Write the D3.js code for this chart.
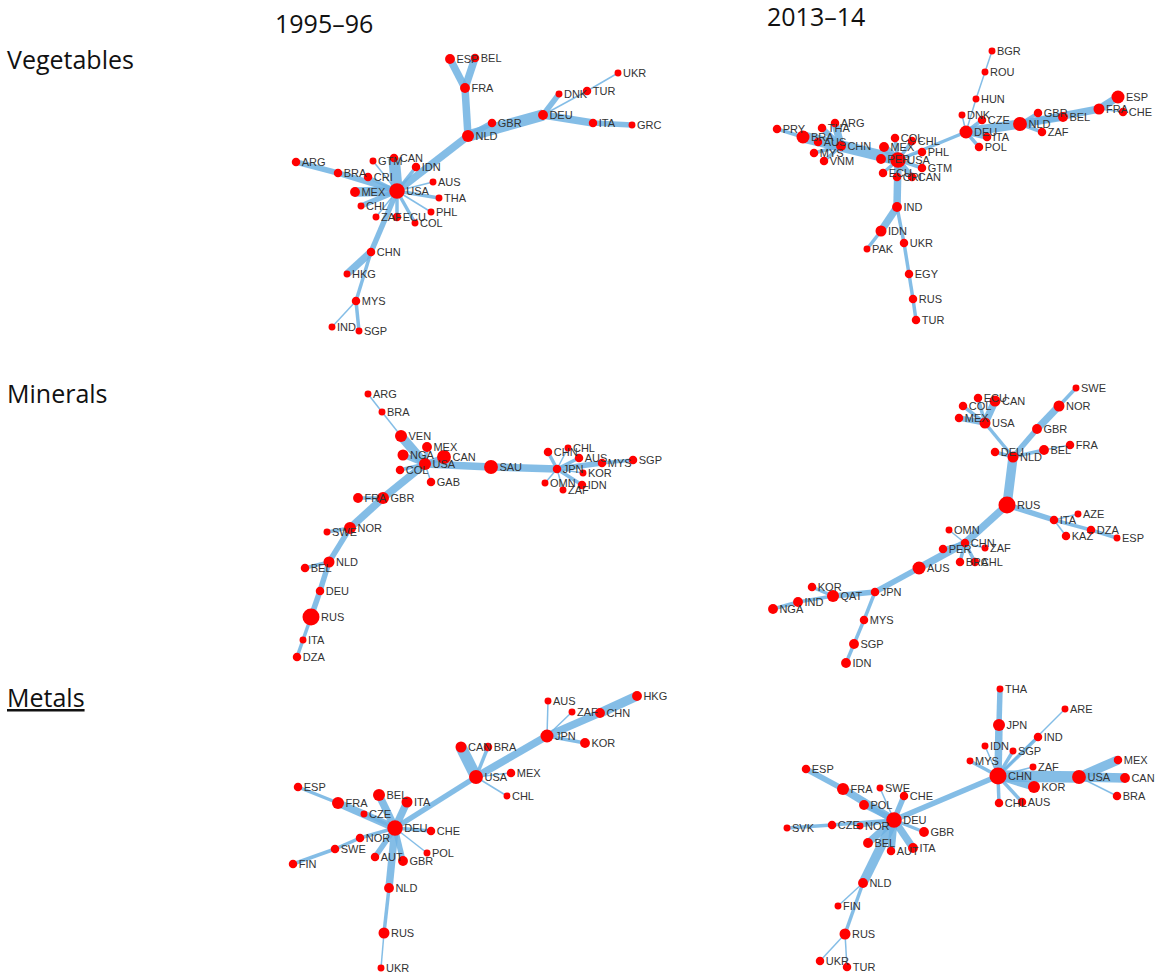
<!DOCTYPE html>
<html>
<head>
<meta charset="utf-8">
<script src="https://cdn.jsdelivr.net/npm/d3@7"></script>
<style>
  html, body { margin: 0; padding: 0; background: #fff; }
  svg { display: block; }
</style>
</head>
<body>
<svg id="chart" width="1158" height="980"></svg>
<script>
// Column (period) titles and row (product group) titles
const periods = ["1995–96", "2013–14"];
const groups = ["Vegetables", "Minerals", "Metals"];

// Node tables: [country, layoutX, layoutY, tradeSize]
// Layout coordinates are in each panel's own 400 x 300 layout space.
const vegNodes1995 = [
  ["ESP",170,19,2],["BEL",195,18,1.5],["FRA",185,48,2],["NLD",188,96,3],["GBR",212,83,1.5],
  ["DEU",263,75,2],["DNK",279,54,1],["TUR",307,51,1.5],["UKR",338,33,1],["ITA",313,83,1.5],
  ["GRC",352,85,1],["USA",117,151,5],["ARG",16,122,1.5],["BRA",58,133,1.5],["CRI",88,137,1.5],
  ["GTM",93,121,1],["CAN",114,118,1.5],["IDN",136,127,1.5],["AUS",153,142,1],["THA",159,158,1],
  ["PHL",151,172,1],["COL",135,183,1],["ECU",117,177,1.5],["ZAF",96,177,1],["MEX",75,152,2],
  ["CHL",81,166,1],["CHN",91,212,1.5],["HKG",67,234,1],["MYS",76,261,1.5],["IND",52,287,1],
  ["SGP",79,291,1]
];
// Link tables: [source, target, tradeWeight]
const vegLinks1995 = [
  ["ESP","FRA",4],["BEL","FRA",4],["FRA","NLD",4],["NLD","GBR",3],["NLD","DEU",6],
  ["DEU","DNK",3],["DEU","TUR",1],["TUR","UKR",1],["DEU","ITA",4],["ITA","GRC",3],
  ["NLD","USA",4],["USA","CAN",6],["USA","MEX",5],["USA","BRA",3],["BRA","ARG",3],
  ["USA","CRI",2],["USA","GTM",1],["USA","IDN",2],["USA","AUS",1],["USA","THA",2],
  ["USA","PHL",1],["USA","COL",2],["USA","ECU",2],["USA","ZAF",1],["USA","CHL",3],
  ["USA","CHN",3],["CHN","HKG",4],["CHN","MYS",2],["MYS","IND",1],["MYS","SGP",2]
];

const vegNodes2013 = [
  ["PRY",12,89,1.5],["BRA",38,97,3.5],["THA",57,88,1.5],["ARG",70,83,1.5],["AUS",53,102,1.5],
  ["CHN",76,106,2],["MYS",49,113,1.5],["VNM",59,121,1.5],["MEX",119,107,2],["COL",130,98,1.5],
  ["CHL",147,101,1.5],["PER",116,119,2],["USA",133,120,5],["PHL",157,112,1.5],["GTM",157,128,1.5],
  ["ECU",118,133,1.5],["CRI",132,137,1.5],["CAN",147,137,1.5],["IND",132,167,2],["IDN",116,191,2.5],
  ["PAK",102,209,1],["UKR",139,203,1.5],["EGY",144,234,1.5],["RUS",148,259,1.5],["TUR",151,280,1.5],
  ["BGR",227,11,1],["ROU",220,32,1],["HUN",211,59,1],["DNK",197,75,1],["CZE",217,80,1.5],
  ["DEU",201,92,3.5],["ITA",222,97,1.5],["POL",214,107,1.5],["NLD",255,84,4],["GBR",273,73,1.5],
  ["BEL",298,77,2],["ZAF",277,92,1.5],["FRA",334,69,2.5],["ESP",353,57,3.5],["CHE",358,72,1.5]
];
const vegLinks2013 = [
  ["PRY","BRA",2],["BRA","CHN",6],["ARG","CHN",4],["THA","CHN",3],["AUS","CHN",3],
  ["MYS","CHN",2],["VNM","CHN",2],["CHN","USA",6],["USA","MEX",4],["USA","COL",2],
  ["USA","CHL",2],["USA","PER",3],["USA","PHL",1],["USA","GTM",2],["USA","ECU",2],
  ["USA","CRI",2],["USA","CAN",3],["USA","DEU",2],["USA","IND",4],["IND","IDN",4],
  ["IDN","PAK",2],["IND","UKR",2],["UKR","EGY",2],["EGY","RUS",2],["RUS","TUR",2],
  ["DEU","HUN",1],["HUN","ROU",1],["ROU","BGR",1],["DEU","DNK",1],["DEU","CZE",2],
  ["DEU","ITA",3],["DEU","POL",2],["DEU","NLD",5],["NLD","GBR",2],["NLD","BEL",4],
  ["NLD","ZAF",2],["NLD","FRA",4],["FRA","ESP",4],["FRA","CHE",1]
];

const minNodes1995 = [
  ["ARG",88,14,1],["BRA",102,32,1],["VEN",121,56,3],["MEX",147,67,2],["CAN",164,77,4],
  ["NGA",123,75,2.5],["USA",145,84,3],["COL",120,90,1.5],["GAB",151,102,1.5],["FRA",78,118,2],
  ["GBR",103,118,3],["SWE",47,152,1],["NOR",70,148,3],["NLD",49,182,2.5],["BEL",25,188,1.5],
  ["DEU",40,211,1.5],["RUS",31,237,6],["ITA",23,260,1],["DZA",17,277,1.5],["SAU",211,87,4],
  ["JPN",277,89,1.5],["CHN",268,72,1.5],["CHL",288,68,1],["AUS",299,78,1.5],["MYS",322,83,1.5],
  ["SGP",353,80,1.5],["KOR",303,93,1],["OMN",265,103,1],["ZAF",283,110,1],["IDN",302,105,1.5]
];
const minLinks1995 = [
  ["ARG","BRA",1],["BRA","VEN",1],["VEN","USA",5],["MEX","USA",2],["CAN","USA",3],
  ["NGA","USA",3],["COL","USA",2],["GAB","USA",1],["USA","SAU",4],["SAU","JPN",4],
  ["JPN","CHN",2],["JPN","CHL",1],["JPN","AUS",2],["JPN","MYS",3],["MYS","SGP",2],
  ["JPN","KOR",1],["JPN","OMN",1],["JPN","ZAF",1],["JPN","IDN",2],["USA","GBR",4],
  ["GBR","FRA",2],["GBR","NOR",4],["NOR","SWE",2],["NOR","NLD",3],["NLD","BEL",2],
  ["NLD","DEU",3],["DEU","RUS",3],["RUS","ITA",2],["ITA","DZA",2]
];

const minNodes2013 = [
  ["SWE",311,8,1],["NOR",294,26,2.5],["ECU",213,18,1.5],["CAN",230,21,2.5],["COL",198,26,1.5],
  ["MEX",194,38,1.5],["USA",220,43,2.5],["GBR",272,49,2],["FRA",305,65,1.5],["BEL",279,70,2],
  ["DEU",230,72,1.5],["NLD",248,77,2.5],["RUS",242,125,6],["ITA",289,140,1.5],["AZE",313,134,1],
  ["KAZ",301,156,1.5],["DZA",326,150,1.5],["ESP",352,158,1],["OMN",184,150,1],["CHN",200,163,1.5],
  ["PER",178,169,1.5],["BRA",195,182,1.5],["CHL",210,182,1.5],["ZAF",220,168,1],["AUS",154,188,3.5],
  ["JPN",110,212,1.5],["QAT",68,216,3],["KOR",47,207,1.5],["IND",33,222,2],["NGA",8,229,2],
  ["MYS",99,240,1.5],["SGP",89,264,2],["IDN",81,283,2]
];
const minLinks2013 = [
  ["SWE","NOR",2],["NOR","GBR",4],["GBR","NLD",3],["FRA","BEL",1],["BEL","NLD",2],
  ["DEU","NLD",2],["NLD","RUS",5],["USA","NLD",2],["COL","USA",2],["MEX","USA",3],
  ["ECU","USA",2],["CAN","USA",4],["RUS","ITA",3],["ITA","AZE",1],["ITA","KAZ",1],
  ["ITA","DZA",2],["DZA","ESP",2],["RUS","CHN",4],["CHN","OMN",1],["CHN","PER",2],
  ["CHN","BRA",2],["CHN","CHL",2],["CHN","ZAF",1],["CHN","AUS",4],["AUS","JPN",3],
  ["JPN","QAT",3],["QAT","KOR",2],["QAT","IND",2],["IND","NGA",2],["JPN","MYS",2],
  ["MYS","SGP",2],["SGP","IDN",2]
];

const metNodes1995 = [
  ["CAN",181,67,2.5],["USA",196,97,4],["BRA",208,67,1.5],["MEX",231,93,1.5],["CHL",227,116,1],
  ["JPN",267,56,3.5],["AUS",268,21,1],["ZAF",292,32,1],["CHN",320,33,2],["HKG",357,16,2],
  ["KOR",305,63,2],["ESP",18,107,1.5],["FRA",58,123,3],["BEL",99,115,3],["ITA",127,122,2.5],
  ["CZE",84,134,1],["DEU",115,148,5],["CHE",151,151,1.5],["NOR",80,158,1.5],["SWE",55,169,1.5],
  ["FIN",13,184,1.5],["AUT",95,177,1.5],["GBR",123,181,2],["POL",147,173,1],["NLD",109,208,2],
  ["RUS",104,253,2.5],["UKR",101,288,1]
];
const metLinks1995 = [
  ["ESP","FRA",2],["FRA","DEU",4],["BEL","DEU",4],["ITA","DEU",4],["CZE","DEU",2],
  ["CHE","DEU",2],["NOR","DEU",2],["NOR","SWE",2],["SWE","FIN",2],["AUT","DEU",3],
  ["GBR","DEU",3],["POL","DEU",1],["DEU","NLD",4],["NLD","RUS",2],["RUS","UKR",1],
  ["DEU","USA",3],["USA","CAN",6],["USA","BRA",2],["USA","MEX",1],["USA","CHL",1],
  ["USA","JPN",4],["JPN","AUS",1],["JPN","ZAF",1],["JPN","CHN",4],["CHN","HKG",5],
  ["JPN","KOR",2]
];

const metNodes2013 = [
  ["THA",235,9,1],["ARE",300,29,1],["JPN",234,45,3],["IND",273,57,1.5],["IDN",220,66,1],
  ["SGP",248,71,1],["MYS",205,81,1],["ZAF",268,87,1],["CHN",233,96,6],["USA",314,97,4],
  ["MEX",353,80,1.5],["CAN",360,98,2],["BRA",352,116,1.5],["KOR",269,107,3],["CHL",234,123,1.5],
  ["AUS",257,122,1.5],["ESP",41,89,1.5],["FRA",78,109,3],["SWE",115,108,1],["CHE",139,116,1.5],
  ["POL",99,125,2],["DEU",129,140,5],["SVK",22,148,1],["CZE",67,145,1.5],["NOR",95,146,1],
  ["GBR",159,152,2],["BEL",103,163,2],["AUT",126,171,1.5],["ITA",148,168,2],["NLD",98,203,2],
  ["FIN",73,226,1],["RUS",80,254,2.5],["UKR",55,281,1.5],["TUR",82,287,1.5]
];
const metLinks2013 = [
  ["CHN","JPN",4],["JPN","THA",3],["CHN","ARE",1],["CHN","IND",2],["CHN","IDN",1],
  ["CHN","SGP",2],["CHN","MYS",2],["CHN","ZAF",1],["CHN","USA",6],["USA","MEX",5],
  ["USA","CAN",5],["USA","BRA",1],["CHN","KOR",4],["CHN","CHL",2],["CHN","AUS",2],
  ["CHN","DEU",3],["ESP","FRA",3],["FRA","DEU",4],["SWE","DEU",1],["CHE","DEU",3],
  ["POL","DEU",3],["CZE","DEU",2],["CZE","SVK",2],["NOR","DEU",2],["GBR","DEU",2],
  ["BEL","DEU",4],["AUT","DEU",4],["ITA","DEU",4],["DEU","NLD",5],["NLD","FIN",1],
  ["NLD","RUS",2],["RUS","UKR",1],["RUS","TUR",1]
];

// Panel grid: one network per product group (row) and period (column)
const panels = [
  {row: 0, col: 0, nodes: vegNodes1995, links: vegLinks1995},
  {row: 0, col: 1, nodes: vegNodes2013, links: vegLinks2013},
  {row: 1, col: 0, nodes: minNodes1995, links: minLinks1995},
  {row: 1, col: 1, nodes: minNodes2013, links: minLinks2013},
  {row: 2, col: 0, nodes: metNodes1995, links: metLinks1995},
  {row: 2, col: 1, nodes: metNodes2013, links: metLinks2013}
];

const svg = d3.select("#chart");
const colLeft = [280, 765];
const rowTop = [40, 380, 680];
const layoutW = 400, layoutH = 300;

const radius = d3.scaleSqrt().domain([0, 6]).range([0, 8.5]);
const strokeW = d3.scaleLinear().domain([1, 6]).range([1.5, 11.5]);

const titleFont = "'Open Sans', 'Noto Sans', sans-serif";
const labelFont = "'Liberation Sans', Arial, sans-serif";
const titleSize = 25;

// Period titles
const titleY = [33, 26];
const titleX = [275, 767];
svg.selectAll("text.period").data(periods).join("text")
  .attr("class", "period")
  .attr("x", (d, i) => titleX[i])
  .attr("y", (d, i) => titleY[i])
  .attr("font-family", titleFont)
  .attr("font-size", titleSize)
  .attr("fill", "#111")
  .text(d => d);

// Product group titles
const groupY = [69, 403, 707];
svg.selectAll("text.group").data(groups).join("text")
  .attr("class", "group")
  .attr("x", 7)
  .attr("y", (d, i) => groupY[i])
  .attr("font-family", titleFont)
  .attr("font-size", titleSize)
  .attr("fill", "#111")
  .attr("text-decoration", (d, i) => i === 2 ? "underline" : null)
  .text(d => d);

panels.forEach(p => {
  const x = d3.scaleLinear().domain([0, layoutW]).range([colLeft[p.col], colLeft[p.col] + layoutW]);
  const y = d3.scaleLinear().domain([0, layoutH]).range([rowTop[p.row], rowTop[p.row] + layoutH]);
  const nodes = p.nodes.map(([id, lx, ly, s]) => ({id, lx, ly, s}));
  const byId = new Map(nodes.map(n => [n.id, n]));
  const links = p.links.map(([a, b, w]) => ({source: byId.get(a), target: byId.get(b), w}));

  const g = svg.append("g");

  g.append("g").selectAll("line").data(links).join("line")
    .attr("x1", d => x(d.source.lx)).attr("y1", d => y(d.source.ly))
    .attr("x2", d => x(d.target.lx)).attr("y2", d => y(d.target.ly))
    .attr("stroke", "#6fb2e2")
    .attr("stroke-opacity", 0.85)
    .attr("stroke-width", d => strokeW(d.w))
    .attr("stroke-linecap", "butt");

  g.append("g").selectAll("circle").data(nodes).join("circle")
    .attr("cx", d => x(d.lx)).attr("cy", d => y(d.ly))
    .attr("r", d => radius(d.s))
    .attr("fill", "#ff0000");

  g.append("g").selectAll("text").data(nodes).join("text")
    .attr("x", d => x(d.lx) + radius(d.s) + 1.5)
    .attr("y", d => y(d.ly) + 4)
    .attr("font-family", labelFont)
    .attr("font-size", 11)
    .attr("fill", "#333")
    .text(d => d.id);
});
</script>
</body>
</html>
